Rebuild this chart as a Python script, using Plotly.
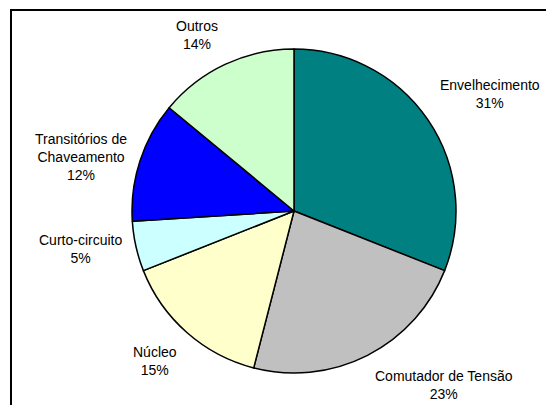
import math
import plotly.graph_objects as go

# ---- data ----
categories = ["Envelhecimento", "Comutador de Tensão", "Núcleo", "Curto-circuito",
              "Transitórios de<br>Chaveamento", "Outros"]
values = [31, 23, 15, 5, 12, 14]
colors = ["#008080", "#C0C0C0", "#FFFFCC", "#CCFFFF", "#0000FF", "#CCFFCC"]

W, H = 546, 405
cx, cy, R = 294, 211, 162  # pie geometry in pixels

fig = go.Figure(go.Pie(
    labels=[c.replace("<br>", " ") for c in categories],
    values=values,
    sort=False,
    direction="clockwise",
    rotation=0,
    textinfo="none",
    marker=dict(colors=colors, line=dict(color="black", width=1.5)),
    domain=dict(x=[(cx - R) / W, (cx + R) / W], y=[1 - (cy + R) / H, 1 - (cy - R) / H]),
    showlegend=False,
))

# labels placed outside each slice, along its mid-angle
total = sum(values)
cum = 0
annotations = []
for lab, v in zip(categories, values):
    mid = (cum + v / 2) / total * 2 * math.pi
    cum += v
    s, c = math.sin(mid), math.cos(mid)
    r = R + 12
    px, py = cx + r * s, cy - r * c
    xa = "left" if s > 0.35 else ("right" if s < -0.35 else "center")
    ya = "bottom" if c > 0.35 else ("top" if c < -0.35 else "middle")
    annotations.append(dict(
        x=px / W, y=1 - py / H, xref="paper", yref="paper",
        text=f"{lab}<br>{round(v / total * 100)}%",
        showarrow=False, xanchor=xa, yanchor=ya, align="center",
        font=dict(family="Liberation Sans, Arial, sans-serif", size=14, color="black"),
    ))

fig.update_layout(
    width=W, height=H,
    margin=dict(l=0, r=0, t=0, b=0),
    paper_bgcolor="white", plot_bgcolor="white",
    annotations=annotations,
    shapes=[
        dict(type="line", xref="paper", yref="paper", x0=10 / W, x1=1, y0=1 - 10 / H, y1=1 - 10 / H,
             line=dict(color="black", width=2)),
        dict(type="line", xref="paper", yref="paper", x0=11 / W, x1=11 / W, y0=0, y1=1 - 10 / H,
             line=dict(color="black", width=2)),
    ],
)

fig.write_html("out.html", config={"displayModeBar": False},
               post_script="document.body.style.margin='0';")
